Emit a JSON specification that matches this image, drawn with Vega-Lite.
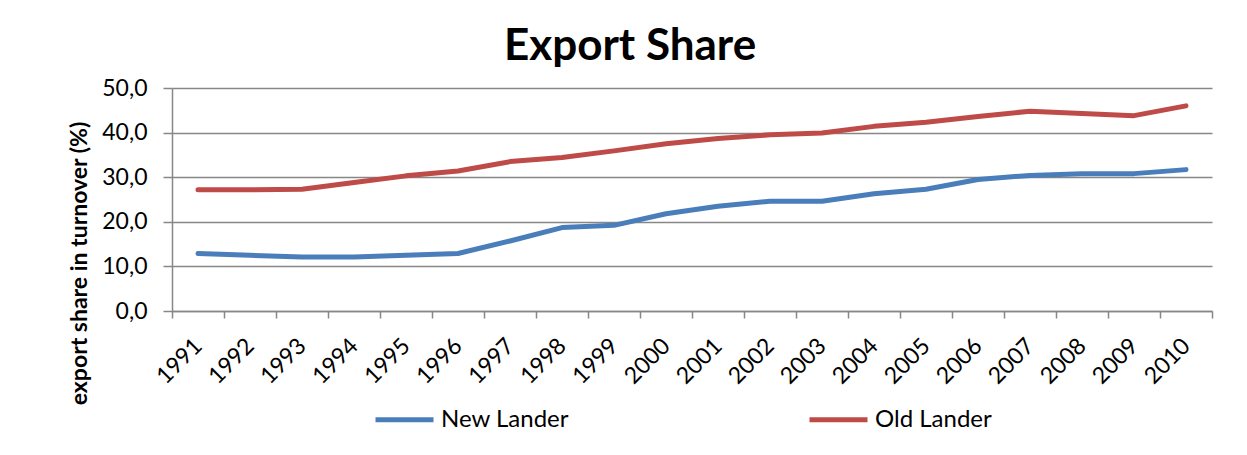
{
  "$schema": "https://vega.github.io/schema/vega-lite/v6.json",
  "width": 1040,
  "height": 223,
  "autosize": {"type": "none"},
  "padding": {"left": 172, "top": 88, "right": 35, "bottom": 144},
  "background": "white",
  "title": {
    "text": "Export Share",
    "font": "Lato",
    "fontSize": 44,
    "fontWeight": "bold",
    "color": "black",
    "anchor": "middle",
    "frame": "group",
    "dx": -62,
    "baseline": "alphabetic",
    "offset": -27
  },
  "config": {
    "view": {"stroke": null},
    "font": "Lato",
    "axis": {
      "domainColor": "#878787",
      "domainWidth": 1.5,
      "tickColor": "#878787",
      "tickWidth": 1.5,
      "gridColor": "#878787",
      "gridWidth": 1.5,
      "labelFont": "Lato",
      "labelFontSize": 23,
      "labelColor": "black",
      "titleFont": "Lato",
      "titleColor": "black"
    }
  },
  "data": {
    "values": [
      {"year": "1991", "series": "New Lander", "value": 12.9},
      {"year": "1992", "series": "New Lander", "value": 12.5},
      {"year": "1993", "series": "New Lander", "value": 12.1},
      {"year": "1994", "series": "New Lander", "value": 12.1},
      {"year": "1995", "series": "New Lander", "value": 12.5},
      {"year": "1996", "series": "New Lander", "value": 12.9},
      {"year": "1997", "series": "New Lander", "value": 15.7},
      {"year": "1998", "series": "New Lander", "value": 18.7},
      {"year": "1999", "series": "New Lander", "value": 19.2},
      {"year": "2000", "series": "New Lander", "value": 21.8},
      {"year": "2001", "series": "New Lander", "value": 23.5},
      {"year": "2002", "series": "New Lander", "value": 24.6},
      {"year": "2003", "series": "New Lander", "value": 24.6},
      {"year": "2004", "series": "New Lander", "value": 26.3},
      {"year": "2005", "series": "New Lander", "value": 27.3},
      {"year": "2006", "series": "New Lander", "value": 29.5},
      {"year": "2007", "series": "New Lander", "value": 30.4},
      {"year": "2008", "series": "New Lander", "value": 30.8},
      {"year": "2009", "series": "New Lander", "value": 30.8},
      {"year": "2010", "series": "New Lander", "value": 31.7},
      {"year": "1991", "series": "Old Lander", "value": 27.2},
      {"year": "1992", "series": "Old Lander", "value": 27.2},
      {"year": "1993", "series": "Old Lander", "value": 27.3},
      {"year": "1994", "series": "Old Lander", "value": 28.8},
      {"year": "1995", "series": "Old Lander", "value": 30.3},
      {"year": "1996", "series": "Old Lander", "value": 31.4},
      {"year": "1997", "series": "Old Lander", "value": 33.5},
      {"year": "1998", "series": "Old Lander", "value": 34.4},
      {"year": "1999", "series": "Old Lander", "value": 35.9},
      {"year": "2000", "series": "Old Lander", "value": 37.5},
      {"year": "2001", "series": "Old Lander", "value": 38.7},
      {"year": "2002", "series": "Old Lander", "value": 39.5},
      {"year": "2003", "series": "Old Lander", "value": 39.9},
      {"year": "2004", "series": "Old Lander", "value": 41.4},
      {"year": "2005", "series": "Old Lander", "value": 42.3},
      {"year": "2006", "series": "Old Lander", "value": 43.6},
      {"year": "2007", "series": "Old Lander", "value": 44.8},
      {"year": "2008", "series": "Old Lander", "value": 44.3},
      {"year": "2009", "series": "Old Lander", "value": 43.8},
      {"year": "2010", "series": "Old Lander", "value": 46.0}
    ]
  },
  "mark": {"type": "line", "strokeWidth": 5, "strokeCap": "round", "strokeJoin": "round"},
  "encoding": {
    "x": {
      "field": "year",
      "type": "ordinal",
      "bandPosition": 0.5,
      "scale": {"type": "band", "paddingInner": 0, "paddingOuter": 0},
      "axis": {
        "title": null,
        "tickBand": "extent",
        "tickSize": 7,
        "labelAngle": -45,
        "labelAlign": "right",
        "labelBaseline": "middle",
        "labelPadding": 24,
        "grid": false
      }
    },
    "y": {
      "field": "value",
      "type": "quantitative",
      "scale": {"domain": [0, 50]},
      "axis": {
        "values": [0, 10, 20, 30, 40, 50],
        "labelExpr": "replace(format(datum.value, '.1f'), '.', ',')",
        "tickSize": 9,
        "labelPadding": 16,
        "grid": true,
        "title": "export share in turnover (%)",
        "titleFontSize": 23,
        "titleFontWeight": "bold",
        "titleX": -93,
        "titleY": 175,
        "titleAngle": -90,
        "titleAlign": "center",
        "titleBaseline": "middle"
      }
    },
    "color": {
      "field": "series",
      "type": "nominal",
      "scale": {"domain": ["New Lander", "Old Lander"], "range": ["#4A7EBB", "#BE4B48"]},
      "legend": {
        "title": null,
        "orient": "none",
        "direction": "horizontal",
        "legendX": 201,
        "legendY": 300,
        "symbolType": "stroke",
        "symbolSize": 3364,
        "symbolStrokeWidth": 5,
        "labelFont": "Lato",
        "labelFontSize": 24,
        "labelColor": "black",
        "labelOffset": 5,
        "labelLimit": 300,
        "gridAlign": "all",
        "columnPadding": 230
      }
    }
  }
}
